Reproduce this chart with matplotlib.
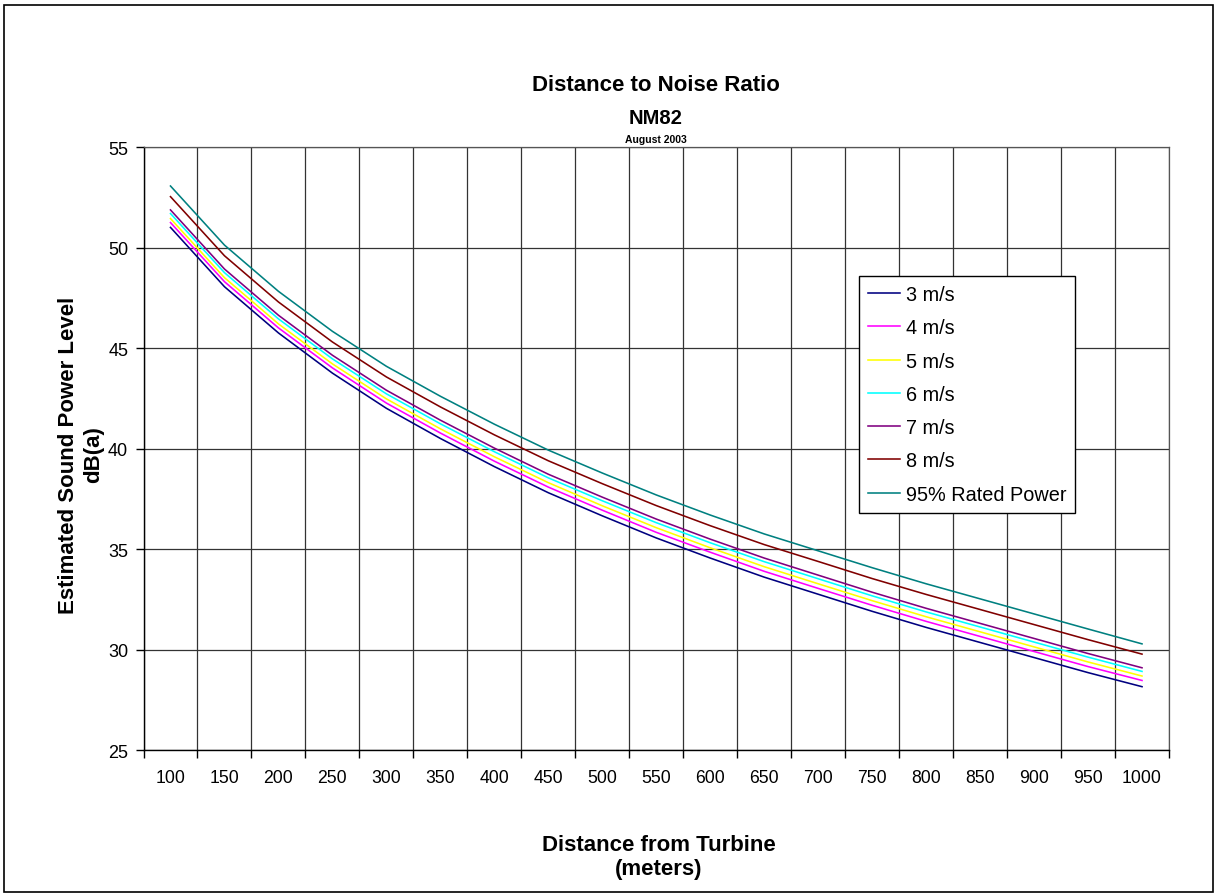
import matplotlib
matplotlib.use("Agg")
import matplotlib.pyplot as plt
from matplotlib.patches import Rectangle
import numpy as np

plt.rcParams['font.family'] = ['Liberation Sans', 'DejaVu Sans']

distances = [100, 150, 200, 250, 300, 350, 400, 450, 500, 550, 600, 650, 700, 750, 800, 850, 900, 950, 1000]

s3 = [51.00, 48.05, 45.75, 43.75, 42.00, 40.50, 39.10, 37.80, 36.65, 35.55, 34.55, 33.60, 32.75, 31.90, 31.10, 30.35, 29.60, 28.85, 28.15]
s4 = [51.24, 48.30, 46.00, 44.01, 42.26, 40.77, 39.37, 38.08, 36.93, 35.83, 34.84, 33.89, 33.04, 32.20, 31.40, 30.65, 29.90, 29.15, 28.46]
s5 = [51.44, 48.50, 46.20, 44.21, 42.47, 40.98, 39.59, 38.30, 37.15, 36.06, 35.06, 34.12, 33.27, 32.43, 31.63, 30.88, 30.13, 29.38, 28.68]
s6 = [51.69, 48.75, 46.45, 44.46, 42.72, 41.23, 39.84, 38.54, 37.40, 36.31, 35.31, 34.37, 33.52, 32.67, 31.87, 31.12, 30.37, 29.62, 28.91]
s7 = [51.87, 48.93, 46.63, 44.64, 42.90, 41.41, 40.02, 38.72, 37.58, 36.49, 35.49, 34.55, 33.70, 32.85, 32.05, 31.30, 30.55, 29.80, 29.09]
s8 = [52.53, 49.59, 47.29, 45.30, 43.56, 42.07, 40.68, 39.39, 38.25, 37.16, 36.16, 35.22, 34.38, 33.53, 32.74, 31.99, 31.24, 30.49, 29.77]
s95 = [53.06, 50.12, 47.82, 45.83, 44.09, 42.60, 41.21, 39.92, 38.78, 37.69, 36.69, 35.75, 34.91, 34.07, 33.27, 32.52, 31.77, 31.02, 30.28]

series_labels = ['3 m/s', '4 m/s', '5 m/s', '6 m/s', '7 m/s', '8 m/s', '95% Rated Power']
series_values = [s3, s4, s5, s6, s7, s8, s95]
series_colors = ['#000080', '#FF00FF', '#FFFF00', '#00FFFF', '#800080', '#800000', '#008080']

y_ticks = [25, 30, 35, 40, 45, 50, 55]

fig = plt.figure(figsize=(12.18, 8.95), dpi=100)
W, H = 1218, 895
ax_left, ax_right, ax_top, ax_bottom = 143.5, 1169, 148, 751
ax = fig.add_axes([ax_left / W, (H - ax_bottom) / H, (ax_right - ax_left) / W, (ax_bottom - ax_top) / H])

x = np.arange(len(distances))
for vals, lab, col in zip(series_values, series_labels, series_colors):
    ax.plot(x, vals, color=col, lw=1.15, label=lab)

ax.set_xlim(-0.5, len(distances) - 0.5)
ax.set_ylim(25, 55)
ax.set_yticks(y_ticks)
ax.set_yticklabels([str(v) for v in y_ticks], fontsize=13)

# category boundaries as major ticks (gridlines + tick marks), labels at centres as minor
ax.set_xticks(np.arange(-0.5, len(distances), 1.0))
ax.set_xticklabels([])
ax.set_xticks(x, minor=True)
ax.set_xticklabels([str(d) for d in distances], minor=True, fontsize=12.7)
ax.tick_params(axis='x', which='major', direction='out', length=6, width=1, color='black')
ax.tick_params(axis='x', which='minor', length=0, pad=14)
ax.tick_params(axis='y', direction='out', length=6, width=1, pad=5)

ax.grid(True, which='major', color='#333333', lw=0.9)
ax.set_axisbelow(True)
for side in ['top', 'right']:
    ax.spines[side].set_color('#555555')
    ax.spines[side].set_linewidth(0.9)
for side in ['left', 'bottom']:
    ax.spines[side].set_color('black')
    ax.spines[side].set_linewidth(1.0)

leg = ax.legend(loc='upper left', bbox_to_anchor=((859 - ax_left) / (ax_right - ax_left), (ax_bottom - 277) / (ax_bottom - ax_top)),
                fontsize=14.3, frameon=True, fancybox=False, shadow=False, framealpha=1,
                edgecolor='black', handlelength=1.6, handletextpad=0.3, labelspacing=0.72,
                borderpad=0.45, borderaxespad=0)
leg.get_frame().set_linewidth(1.0)

fig.text(656 / W, 1 - 91 / H, 'Distance to Noise Ratio', ha='center', va='baseline', fontsize=16, fontweight='bold')
fig.text(656 / W, 1 - 124 / H, 'NM82', ha='center', va='baseline', fontsize=14.5, fontweight='bold')
fig.text(656 / W, 1 - 143 / H, 'August 2003', ha='center', va='baseline', fontsize=7.5, fontweight='bold')

fig.text(74 / W, 1 - 455 / H, 'Estimated Sound Power Level', ha='center', va='baseline',
         rotation=90, rotation_mode='anchor', fontsize=16, fontweight='bold')
fig.text(99 / W, 1 - 455 / H, 'dB(a)', ha='center', va='baseline',
         rotation=90, rotation_mode='anchor', fontsize=16, fontweight='bold')
fig.text(659 / W, 1 - 851 / H, 'Distance from Turbine', ha='center', va='baseline',
         fontsize=16, fontweight='bold')
fig.text(659 / W, 1 - 875 / H, '(meters)', ha='center', va='baseline',
         fontsize=16, fontweight='bold')

fig.patches.append(Rectangle((4 / W, 2 / H), 1209 / W, 887 / H, transform=fig.transFigure,
                             fill=False, edgecolor='black', lw=1.2))

fig.savefig('out.png', dpi=100)
